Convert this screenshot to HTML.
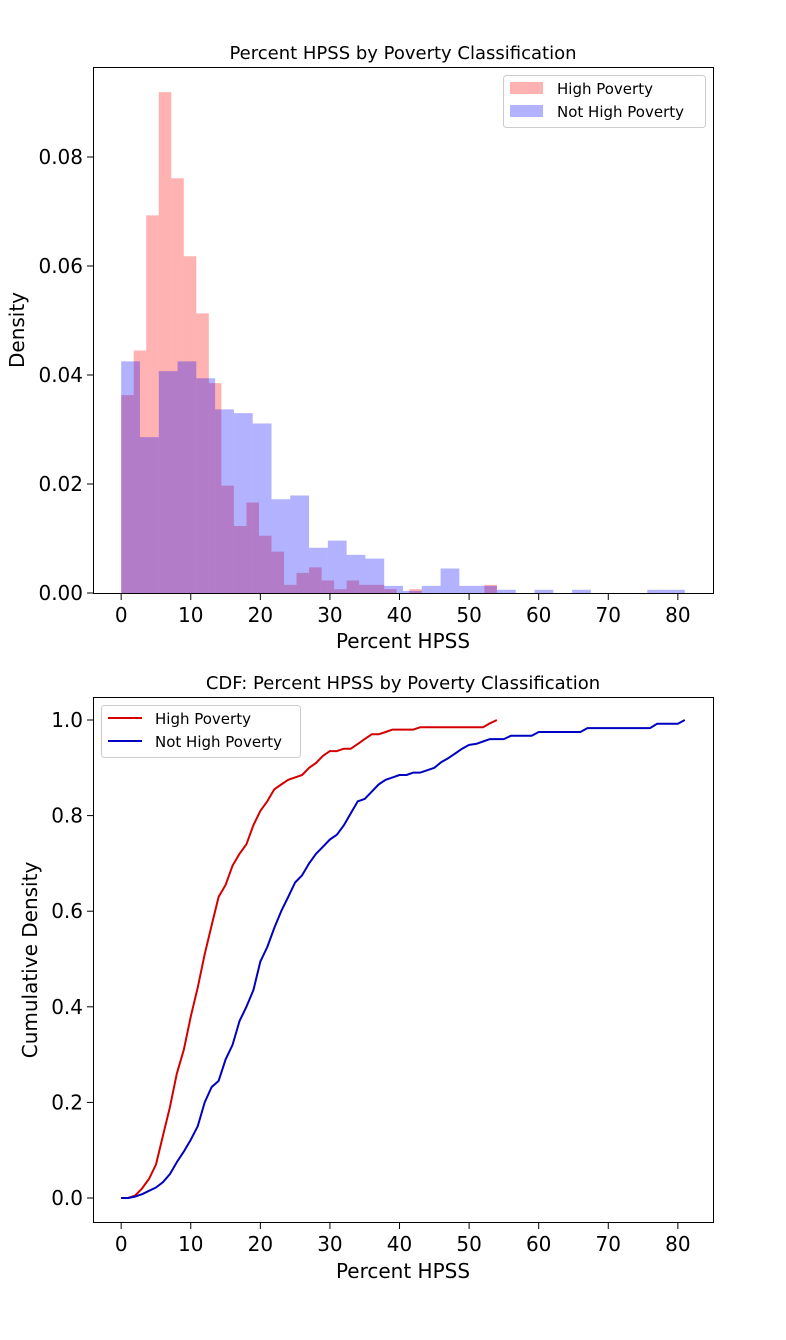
<!DOCTYPE html>
<html><head><meta charset="utf-8"><style>
body{margin:0;background:#fff;}
svg{display:block;font-family:"DejaVu Sans","Liberation Sans",sans-serif;}
</style></head><body>
<svg id="fig" width="786" height="1340" viewBox="0 0 786 1340" xmlns="http://www.w3.org/2000/svg"></svg>
<script>
// ---- Histogram data (30 bins each) ----
const redRange = [0, 54];
const redDensity = [0.0363,0.0445,0.0693,0.0919,0.0761,0.0618,0.0513,0.0385,0.0197,0.0123,0.0166,0.0105,0.0076,0.0015,0.0037,0.0047,0.0023,0.0007,0.0023,0.0015,0.0015,0.0007,0,0.0007,0,0,0,0,0,0.0015];
const blueRange = [0, 81];
const blueDensity = [0.0425,0.0286,0.0407,0.0425,0.0394,0.0337,0.0330,0.0311,0.0172,0.0179,0.0083,0.0096,0.0070,0.0063,0.0013,0.0004,0.0013,0.0045,0.0013,0.0013,0.0006,0,0.0006,0,0.0006,0,0,0,0.0006,0.0006];
const histXTicks = [0,10,20,30,40,50,60,70,80];
const histYTicks = [0,0.02,0.04,0.06,0.08];
// ---- CDF data ----
const redCdf = [0,0,0.005,0.02,0.04,0.07,0.13,0.19,0.26,0.31,0.38,0.44,0.51,0.57,0.63,0.655,0.695,0.72,0.74,0.78,0.81,0.83,0.855,0.865,0.875,0.88,0.885,0.9,0.91,0.925,0.935,0.935,0.94,0.94,0.95,0.96,0.97,0.97,0.975,0.98,0.98,0.98,0.98,0.985,0.985,0.985,0.985,0.985,0.985,0.985,0.985,0.985,0.985,0.993,1.0];
const blueCdf = [0,0,0.003,0.008,0.015,0.022,0.033,0.05,0.075,0.097,0.122,0.15,0.2,0.232,0.245,0.29,0.32,0.37,0.4,0.435,0.495,0.525,0.565,0.6,0.63,0.66,0.675,0.7,0.72,0.735,0.75,0.76,0.78,0.805,0.83,0.835,0.85,0.865,0.875,0.88,0.885,0.885,0.89,0.89,0.895,0.9,0.912,0.92,0.93,0.94,0.948,0.95,0.955,0.96,0.96,0.96,0.967,0.967,0.967,0.967,0.975,0.975,0.975,0.975,0.975,0.975,0.975,0.983,0.983,0.983,0.983,0.983,0.983,0.983,0.983,0.983,0.983,0.992,0.992,0.992,0.992,1.0];
const cdfXTicks = [0,10,20,30,40,50,60,70,80];
const cdfYTicks = [0,0.2,0.4,0.6,0.8,1.0];

const NS = "http://www.w3.org/2000/svg";
const svg = document.getElementById('fig');
function mk(tag, attrs, parent){const e=document.createElementNS(NS,tag);for(const k in attrs)e.setAttribute(k,attrs[k]);(parent||svg).appendChild(e);return e;}
function txt(s, attrs){const e=mk('text',attrs);e.textContent=s;return e;}

// ===== Top chart =====
const X = v => 93 + (v+4.05)*(620/89.1);
const Y1 = v => 593 - v*(436/0.08);
const g1 = mk('g',{});


function drawHist(range, vals, color, name){
  const w=(range[1]-range[0])/vals.length;
  const grp=mk('g',{fill:color,'fill-opacity':0.3},g1);
  vals.forEach((v,i)=>{
    if(v<=0) return;
    const x0=X(range[0]+i*w), x1=X(range[0]+(i+1)*w);
    const r=mk('path',{d:`M${x0},${Y1(0)}V${Y1(v)}H${x1}V${Y1(0)}Z`},grp);
    
    
  });
}
drawHist(redRange, redDensity, '#ff0000','high-poverty');
drawHist(blueRange, blueDensity, '#0000ff','not-high-poverty');
const f1=mk('rect',{x:93.5,y:67.5,width:620,height:526,fill:'none',stroke:'#000','stroke-width':1});


histXTicks.forEach(t=>{mk('line',{x1:X(t),x2:X(t),y1:594,y2:600,stroke:'#000'});
  const e=txt(String(t),{x:X(t),y:622,'font-size':20,'text-anchor':'middle',fill:'#000'});
  });
histYTicks.forEach(t=>{mk('line',{x1:87,x2:93,y1:Y1(t),y2:Y1(t),stroke:'#000'});
  const e=txt(t.toFixed(2),{x:83,y:Y1(t)+7,'font-size':20,'text-anchor':'end',fill:'#000'});
  });
let e;
e=txt('Percent HPSS by Poverty Classification',{x:403,y:59,'font-size':18,'text-anchor':'middle'});
e=txt('Percent HPSS',{x:403,y:648,'font-size':20,'text-anchor':'middle'});
e=txt('Density',{x:0,y:0,'font-size':20,'text-anchor':'middle',transform:'translate(24,330) rotate(-90)'});
// legend top
const lg1=mk('g',{});
mk('rect',{x:503.5,y:75.5,width:202,height:52,rx:3,fill:'#fff','fill-opacity':0.8,stroke:'#ccc'},lg1);
mk('rect',{x:510,y:82,width:33,height:12,fill:'#ff0000','fill-opacity':0.3},lg1);
mk('rect',{x:510,y:105,width:33,height:12,fill:'#0000ff','fill-opacity':0.3},lg1);
e=txt('High Poverty',{x:557,y:94,'font-size':15});lg1.appendChild(e);
e=txt('Not High Poverty',{x:557,y:117,'font-size':15});lg1.appendChild(e);

// ===== Bottom chart =====
const Y2 = v => 1198 - v*478;
const f2=mk('rect',{x:93.5,y:697.5,width:620,height:525,fill:'none',stroke:'#000','stroke-width':1});


function drawLine(vals,color,name){
  const pts=vals.map((v,i)=>X(i).toFixed(1)+','+Y2(v).toFixed(1)).join(' ');
  const p=mk('polyline',{points:pts,fill:'none',stroke:color,'stroke-width':2,'stroke-linejoin':'round'});
  
  
}
drawLine(redCdf,'#d40000','high-poverty-cdf-line');
drawLine(blueCdf,'#0000c0','not-high-poverty-cdf-line');
cdfXTicks.forEach(t=>{mk('line',{x1:X(t),x2:X(t),y1:1223,y2:1229,stroke:'#000'});
  const e=txt(String(t),{x:X(t),y:1251,'font-size':20,'text-anchor':'middle'});
  });
cdfYTicks.forEach(t=>{mk('line',{x1:87,x2:93,y1:Y2(t),y2:Y2(t),stroke:'#000'});
  const e=txt(t.toFixed(1),{x:83,y:Y2(t)+7,'font-size':20,'text-anchor':'end'});
  });
e=txt('CDF: Percent HPSS by Poverty Classification',{x:403,y:689,'font-size':18,'text-anchor':'middle'});
e=txt('Percent HPSS',{x:403,y:1278,'font-size':20,'text-anchor':'middle'});
e=txt('Cumulative Density',{x:0,y:0,'font-size':20,'text-anchor':'middle',transform:'translate(37,960) rotate(-90)'});
const lg2=mk('g',{});
mk('rect',{x:101.5,y:705.5,width:199,height:52,rx:3,fill:'#fff','fill-opacity':0.8,stroke:'#ccc'},lg2);
mk('line',{x1:108,x2:142,y1:718,y2:718,stroke:'#d40000','stroke-width':2},lg2);
mk('line',{x1:108,x2:142,y1:741,y2:741,stroke:'#0000c0','stroke-width':2},lg2);
e=txt('High Poverty',{x:155,y:724,'font-size':15});lg2.appendChild(e);
e=txt('Not High Poverty',{x:155,y:747,'font-size':15});lg2.appendChild(e);
</script>
</body></html>
